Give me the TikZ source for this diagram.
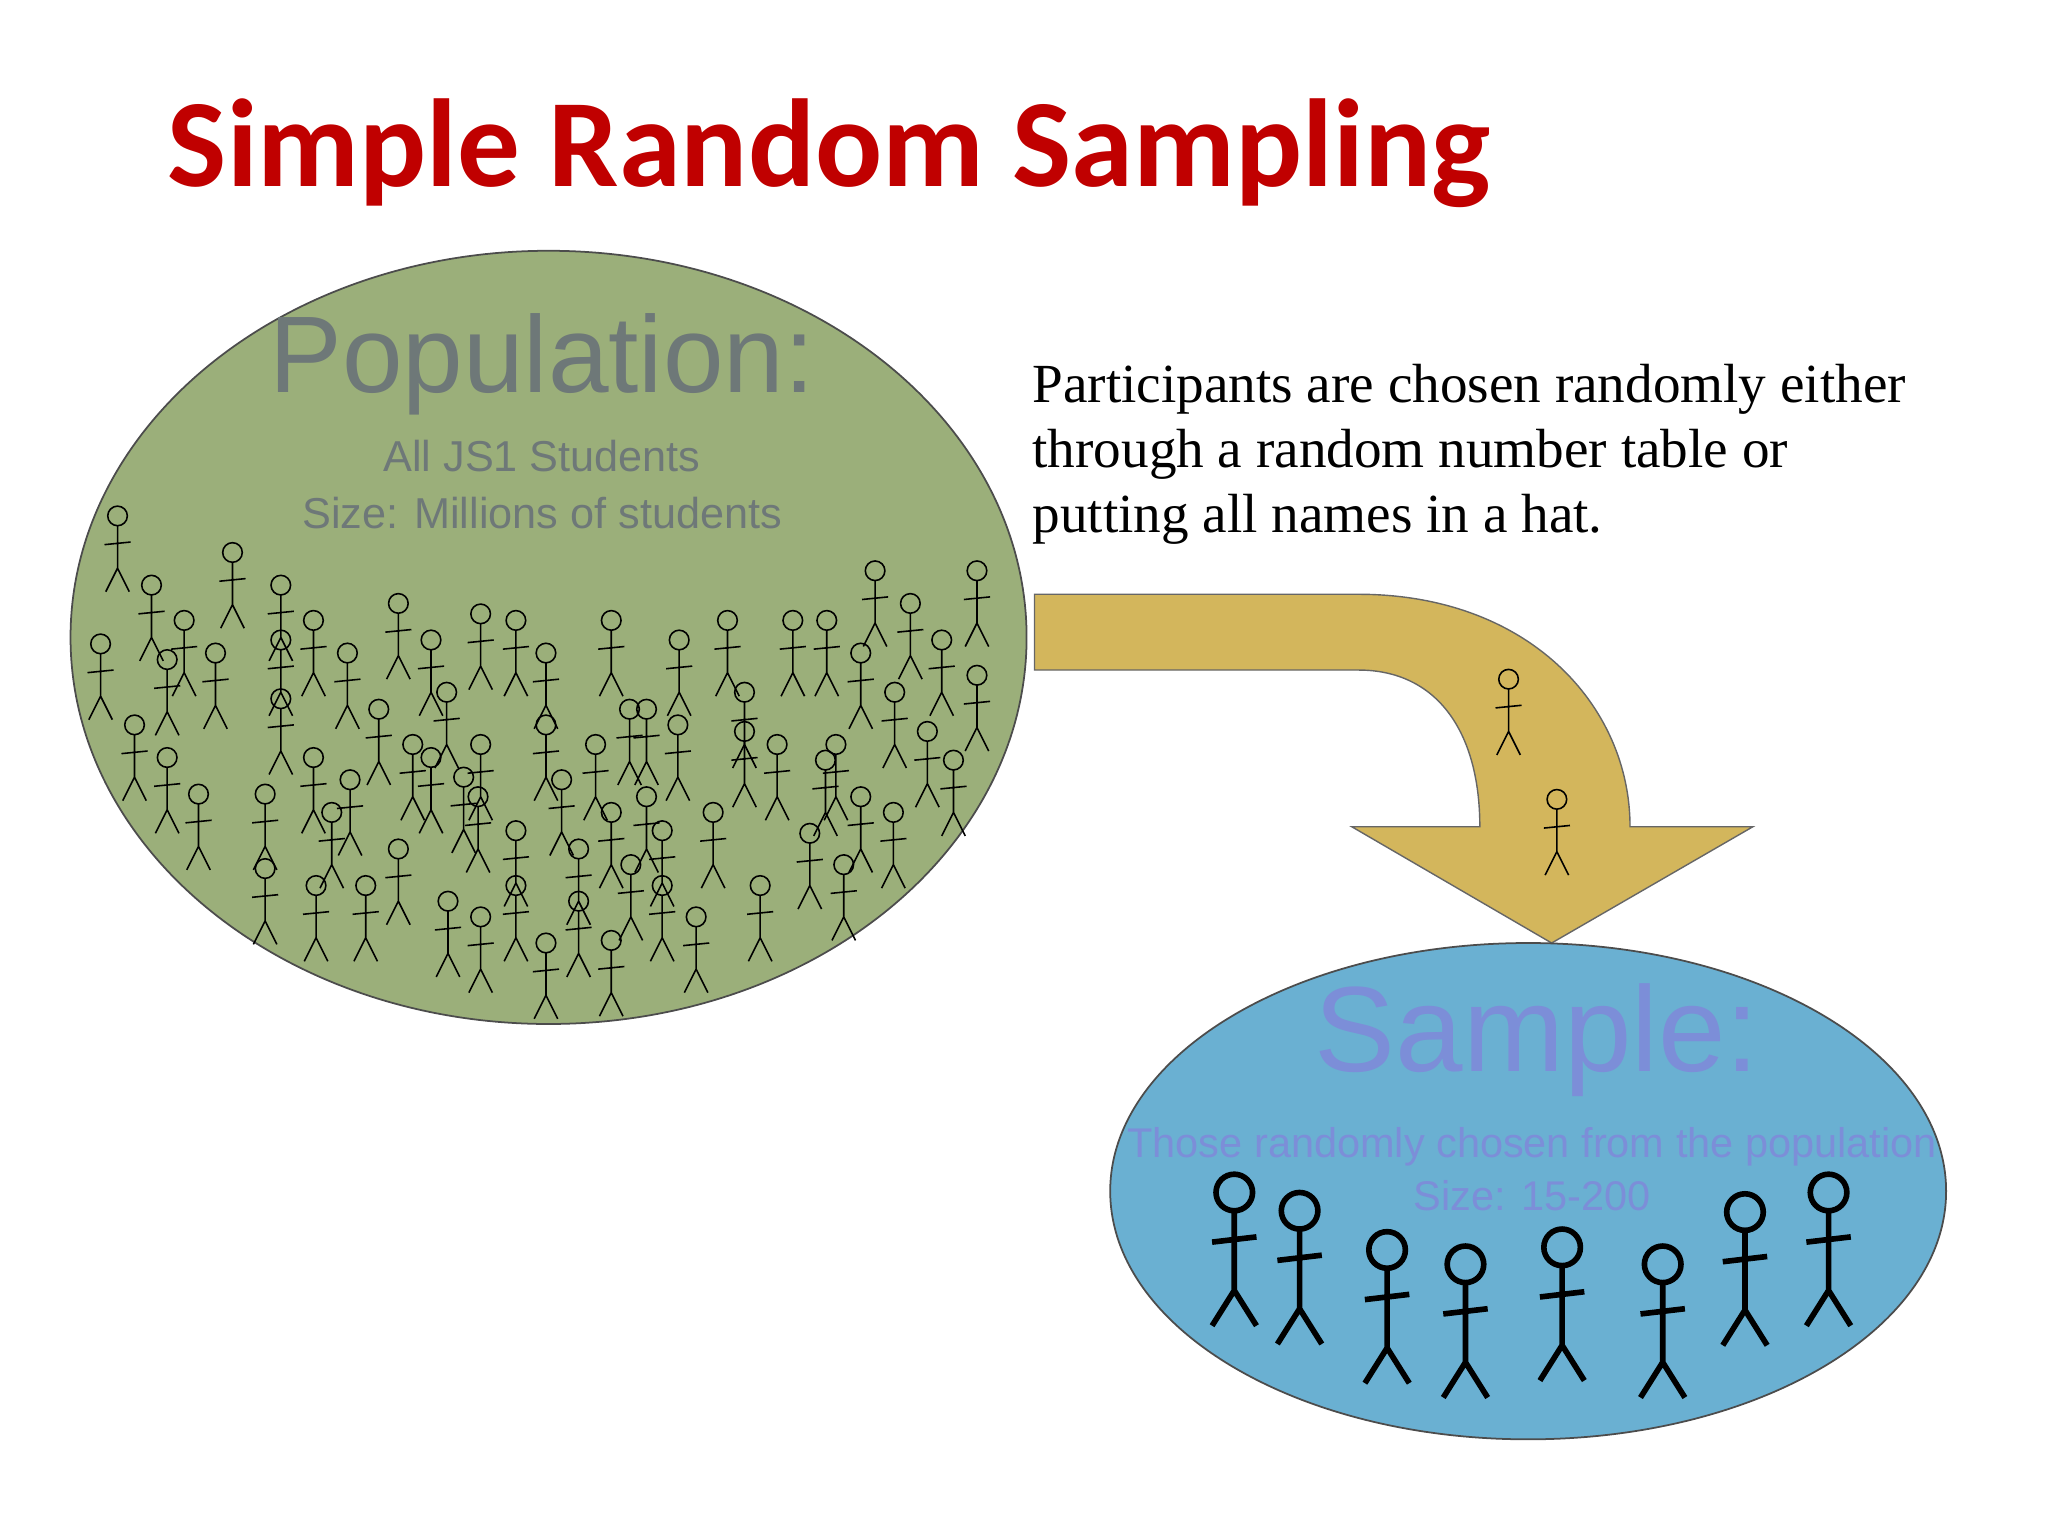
\documentclass[tikz,border=0pt]{standalone}
\usepackage{fontspec}
\setmainfont{Liberation Serif}
\setsansfont{Liberation Sans}
\newfontfamily\titlefont{Carlito}
\definecolor{popfill}{HTML}{9BAF7A}
\definecolor{sampfill}{HTML}{6AB0D2}
\definecolor{arrowfill}{HTML}{D3B65C}
\definecolor{titlered}{HTML}{C00000}
\definecolor{popgray}{HTML}{6E7878}
\definecolor{sampblue}{HTML}{7C8ED8}
\tikzset{
  fig/.pic={\draw[line width=0.45pt] (0,0) circle (7.5);
    \draw[line width=0.45pt] (0,7.5)--(0,40) (-10,22)--(10,20) (0,40)--(-9,58) (0,40)--(9,58);},
  bigfig/.pic={\draw[line width=1.6pt] (0,0) circle (14);
    \draw[line width=1.6pt] (0,14)--(0,75) (-17,38)--(17,34) (0,75)--(-17,102) (0,75)--(17,102);},
  ell/.style={draw=black!70, line width=0.5pt}
}
\begin{document}
\begin{tikzpicture}[x=0.013061cm,y=-0.013061cm]
\useasboundingbox (0,0) rectangle (1568,1176);
\node[anchor=base west, inner sep=0, text=titlered, font=\titlefont\bfseries\fontsize{35.6}{40}\selectfont] (title) at (128,143) {Simple Random Sampling};
% population
\draw[ell, fill=popfill] (420,488) ellipse [x radius=366, y radius=296];
\node[text=popgray, font=\sffamily\fontsize{31}{34}\selectfont] (pop) at (415,279) {Population:};
\node[text=popgray, font=\sffamily\fontsize{12.3}{16.2}\selectfont, align=center] (popsub) at (415,371) {All JS1 Students\\Size: Millions of students};
\foreach \p in {(90,395),(178,423),(116,448),(215,448),(670,437),(748,437),(697,462),(141,475),(240,475),(305,462),(330,490),(368,470),(395,475),(468,475),(557,475),(607,475),(633,475),(77,493),(128,505),(165,500),(215,490),(266,500),(418,500),(520,490),(659,500),(721,490),(748,517),(342,530),(570,530),(685,530),(215,535),(290,543),(418,555),(482,543),(495,543),(519,555),(103,555),(570,560),(710,560),(316,570),(456,570),(595,570),(640,570),(128,580),(240,580),(330,580),(368,570),(730,582),(632,582),(355,595),(268,597),(152,608),(203,608),(430,597),(495,610),(468,622),(659,610),(254,622),(366,610),(546,622),(684,622),(620,638),(305,650),(395,636),(443,650),(507,636),(483,662),(646,662),(203,665),(242,678),(280,678),(582,678),(395,678),(443,690),(507,678),(343,690),(368,702),(533,702),(418,722),(468,720)}
  \pic at \p {fig};
% text
\node[anchor=north west, inner sep=0, font=\fontsize{15.7}{18.6}\selectfont, align=left] (desc) at (790,278) {Participants are chosen randomly either\\through a random number table or\\putting all names in a hat.};
% arrow
\draw[black!60, line width=0.4pt, fill=arrowfill] (792,455) -- (1040,455) .. controls (1170,455) and (1248,540) .. (1248,633) -- (1342,633) -- (1188,722) -- (1035,633) -- (1133,633) .. controls (1133,560) and (1100,513) .. (1040,513) -- (792,513) -- cycle;
\pic at (1155,520) {fig};
\pic at (1192,612) {fig};
% sample
\draw[ell, fill=sampfill] (1170,912) ellipse [x radius=320, y radius=190];
\node[text=sampblue, font=\sffamily\fontsize{34.5}{38}\selectfont] (samp) at (1177,796) {Sample:};
\node[text=sampblue, font=\sffamily\fontsize{11.8}{15}\selectfont, align=center] (sampsub) at (1173,895) {Those randomly chosen from the population\\Size: 15-200};
\foreach \p in {(945,913),(995,927),(1062,957),(1122,968),(1196,955),(1273,968),(1336,928),(1400,913)}
  \pic at \p {bigfig};
\end{tikzpicture}
\end{document}
